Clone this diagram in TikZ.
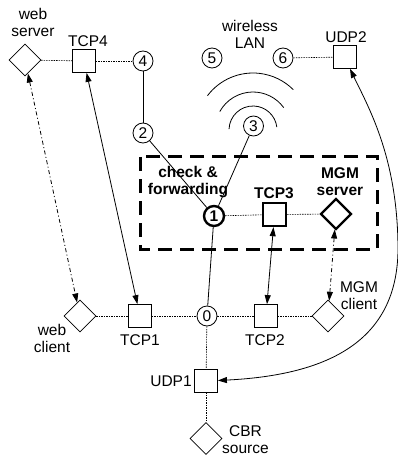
\documentclass[tikz,border=0pt]{standalone}
\usepackage{fontspec}
\setmainfont{Liberation Sans}
\usetikzlibrary{shapes.geometric,arrows.meta}
\begin{document}
\begin{tikzpicture}[x=1pt,y=-1pt,
  font=\fontsize{15.5}{17}\selectfont,
  sq/.style={draw,line width=0.8pt,minimum size=23pt,inner sep=0pt,fill=white},
  dia/.style={draw,diamond,aspect=1,minimum size=32pt,inner sep=0pt,line width=0.8pt,fill=white},
  rt/.style={draw,circle,minimum size=20pt,inner sep=0pt,line width=0.8pt,fill=white},
  thk/.style={line width=2.4pt},
  lbl/.style={align=center,inner sep=0pt},
  link/.style={line width=0.6pt,dash pattern=on 1.5pt off 1pt},
  wire/.style={line width=0.8pt},
  biarrow/.style={line width=0.8pt,{Triangle[length=9pt,width=6pt]}-{Triangle[length=9pt,width=6pt]}},
  dashdot/.style={dash pattern=on 4pt off 2.5pt on 1pt off 2.5pt},
  area/.style={line width=3pt,dash pattern=on 14pt off 8pt},
]
\useasboundingbox (0,0) rectangle (397,457);

% area box
\draw[area] (140,157) rectangle (377,249);

% nodes
\node[dia] (ws) at (25,60) {};
\node[lbl] (wslbl) at (33,22) {web\\server};
\node[sq] (tcp4) at (84,61) {};
\node[lbl] (tcp4lbl) at (88,41) {TCP4};
\node[rt] (c4) at (143,61) {4};
\node[rt] (c2) at (143,133) {2};
\node[rt] (c5) at (212,58) {5};
\node[rt] (c6) at (283,58) {6};
\node[lbl] (wlan) at (250,34) {wireless\\LAN};
\node[sq] (udp2) at (345,57) {};
\node[lbl] (udp2lbl) at (346,37) {UDP2};
\node[rt] (c3) at (253.5,126) {3};

\node[rt,thk] (c1) at (214,216) {\bfseries 1};
\node[sq,thk] (tcp3) at (274.5,214.5) {};
\node[lbl,font=\fontsize{15.5}{17}\selectfont\bfseries] (tcp3lbl) at (274,193) {TCP3};
\node[dia,thk,minimum size=31pt] (mgms) at (336,214) {};
\node[lbl,font=\fontsize{15.5}{17}\selectfont\bfseries] (mgmslbl) at (340,182) {MGM\\server};
\node[lbl,font=\fontsize{15.5}{17}\selectfont\bfseries] (cflbl) at (188,182) {check \&\\forwarding};

\node[dia] (wc) at (80,316) {};
\node[lbl] (wclbl) at (52,338) {web\\client};
\node[sq] (tcp1) at (140,316) {};
\node[lbl] (tcp1lbl) at (140,340) {TCP1};
\node[rt] (c0) at (207,316) {0};
\node[sq] (tcp2) at (266,316) {};
\node[lbl] (tcp2lbl) at (265,340) {TCP2};
\node[dia] (mgmc) at (328,316) {};
\node[lbl] (mgmclbl) at (359,296) {MGM\\client};
\node[sq] (udp1) at (206,380.5) {};
\node[lbl] (udp1lbl) at (171,381) {UDP1};
\node[dia] (cbr) at (206,438.5) {};
\node[lbl] (cbrlbl) at (245.5,440) {CBR\\source};

% dotted links
\draw[link] (ws) -- (tcp4);
\draw[link] (tcp4) -- (c4);
\draw[link] (c6) -- (udp2);
\draw[link] (c1) -- (tcp3);
\draw[link] (tcp3) -- (mgms);
\draw[link] (wc) -- (tcp1);
\draw[link] (tcp1) -- (c0);
\draw[link] (c0) -- (tcp2);
\draw[link] (tcp2) -- (mgmc);
\draw[link] (c0) -- (udp1);
\draw[link] (udp1) -- (cbr);

% wires
\draw[wire] (c4) -- (c2);
\draw[wire] (c2) -- (c1);
\draw[wire] (c3) -- (c1);
\draw[wire] (c1) -- (c0);

% wireless waves
\draw[wire] (253,130) ++(-178:24) arc[start angle=-178,end angle=-7,radius=24];
\draw[wire] (253,130) ++(-151:38) arc[start angle=-151,end angle=-36,radius=38];
\draw[wire] (253,130) ++(-143:57) arc[start angle=-143,end angle=-45,radius=57];

% arrows
\draw[biarrow,dashdot] (ws) -- (wc);
\draw[biarrow] (tcp4) -- (tcp1);
\draw[biarrow] (tcp3) -- (tcp2);
\draw[biarrow,dashdot] (mgms) -- (mgmc);
\draw[biarrow] (udp1.east) .. controls (330,375) and (397,340) .. (398,250)
  .. controls (398,160) and (370,110) .. ([xshift=5pt]udp2.south);
\end{tikzpicture}
\end{document}
